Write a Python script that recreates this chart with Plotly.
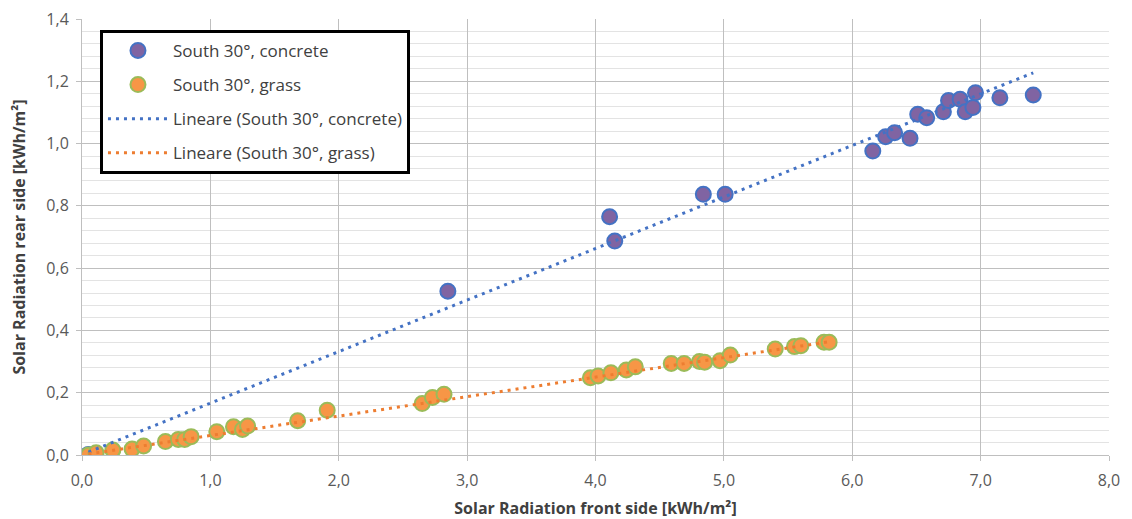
import plotly.graph_objects as go

# ---- data ----
concrete_x = [0.05, 2.85, 4.11, 4.15, 4.84, 5.01, 6.16, 6.26, 6.33, 6.45, 6.51, 6.58,
              6.71, 6.75, 6.84, 6.88, 6.94, 6.96, 7.15, 7.41]
concrete_y = [0.002, 0.526, 0.765, 0.687, 0.837, 0.837, 0.976, 1.022, 1.035, 1.017, 1.094, 1.083,
              1.102, 1.138, 1.142, 1.102, 1.116, 1.163, 1.147, 1.156]

grass_x = [0.05, 0.11, 0.24, 0.39, 0.48, 0.65, 0.75, 0.80, 0.85, 1.05, 1.18, 1.25, 1.29,
           1.68, 1.91, 2.65, 2.73, 2.82, 3.96, 4.02, 4.12, 4.24, 4.31, 4.59, 4.69, 4.81,
           4.85, 4.97, 5.05, 5.40, 5.55, 5.60, 5.78, 5.82]
grass_y = [0.0, 0.007, 0.016, 0.019, 0.029, 0.043, 0.050, 0.050, 0.059, 0.075, 0.091, 0.082, 0.093,
           0.110, 0.144, 0.165, 0.185, 0.195, 0.248, 0.254, 0.264, 0.273, 0.283, 0.294, 0.294, 0.300,
           0.298, 0.303, 0.321, 0.340, 0.348, 0.351, 0.362, 0.362]

# linear trendlines (slope, intercept)
trend_concrete = (0.1655, 0.001)
trend_grass = (0.0625, 0.0)

names = ["South 30°, concrete", "South 30°, grass",
         "Lineare (South 30°, concrete)", "Lineare (South 30°, grass)"]

x_ticks = [0, 1, 2, 3, 4, 5, 6, 7, 8]
y_ticks = [0, 0.2, 0.4, 0.6, 0.8, 1.0, 1.2, 1.4]

def trend(xs, coef):
    x0, x1 = min(xs), max(xs)
    return [x0, x1], [coef[0] * x0 + coef[1], coef[0] * x1 + coef[1]]

fig = go.Figure()
fig.add_trace(go.Scatter(x=concrete_x, y=concrete_y, mode="markers", name=names[0],
                         legendgroup="a",
                         marker=dict(size=15, color="#8064A2",
                                     line=dict(color="#4472C4", width=2))))
fig.add_trace(go.Scatter(x=grass_x, y=grass_y, mode="markers", name=names[1],
                         legendgroup="b",
                         marker=dict(size=15, color="#F79646",
                                     line=dict(color="#9BBB59", width=2))))
tx, ty = trend(concrete_x, trend_concrete)
fig.add_trace(go.Scatter(x=tx, y=ty, mode="lines", name=names[2], legendgroup="c",
                         line=dict(color="#4472C4", width=3, dash="3px,5px")))
tx, ty = trend(grass_x, trend_grass)
fig.add_trace(go.Scatter(x=tx, y=ty, mode="lines", name=names[3], legendgroup="d",
                         line=dict(color="#ED7D31", width=3, dash="3px,5px")))

FONT = "Open Sans, Liberation Sans, sans-serif"
tick_font = dict(family=FONT, size=16, color="#595959")
title_font = dict(family=FONT, size=16, color="#404040")

fig.update_layout(
    width=1124, height=511,
    margin=dict(l=74, r=23, t=11, b=64),
    paper_bgcolor="white", plot_bgcolor="white",
    separators=",.",
    showlegend=True,
    legend=dict(x=0.0175, y=0.975, xanchor="left", yanchor="top",
                bgcolor="white", bordercolor="black", borderwidth=3,
                font=dict(family=FONT, size=17, color="#404040"),
                tracegroupgap=9, itemwidth=60),
    xaxis=dict(range=[0, 8], tickvals=x_ticks, tickformat=".1f", tickfont=tick_font,
               showgrid=True, gridcolor="#BFBFBF", gridwidth=1,
               showline=True, linecolor="#BFBFBF", linewidth=1,
               ticks="outside", ticklen=5, tickcolor="#BFBFBF",
               ticklabelstandoff=6, ticklabeloverflow="allow",
               zeroline=False, automargin=False,
               title=dict(text="<b>Solar Radiation front side [kWh/m²]</b>", font=title_font,
                          standoff=14)),
    yaxis=dict(range=[0, 1.4], tickvals=y_ticks, tickformat=".1f", tickfont=tick_font,
               showgrid=True, gridcolor="#BFBFBF", gridwidth=1,
               showline=True, linecolor="#BFBFBF", linewidth=1,
               ticks="outside", ticklen=5, tickcolor="#BFBFBF",
               ticklabelstandoff=4, ticklabeloverflow="allow",
               zeroline=False, automargin=False,
               minor=dict(dtick=0.04, showgrid=True, gridcolor="#E3E3E3", gridwidth=1),
               title=dict(text="<b>Solar Radiation rear side [kWh/m²]</b>", font=title_font,
                          standoff=16)),
)

fig.write_html("out.html")
